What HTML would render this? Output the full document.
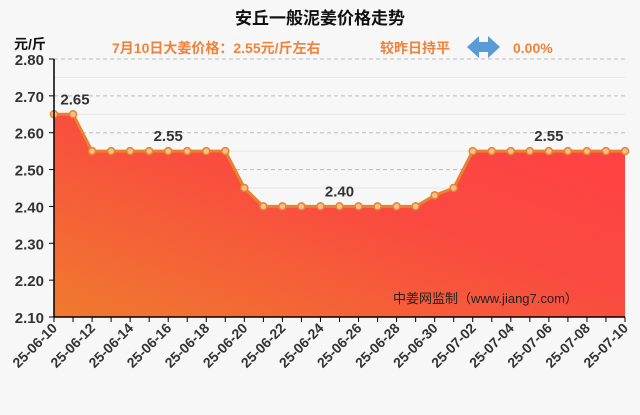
<!DOCTYPE html>
<html><head><meta charset="utf-8"><style>
body{margin:0;background:#f7f7f7;}
svg text{font-family:"Liberation Sans","Noto Sans CJK SC",sans-serif;}
</style></head><body>
<svg width="640" height="410" xmlns="http://www.w3.org/2000/svg">
<defs><linearGradient id="g" x1="0" y1="1" x2="1" y2="0">
<stop offset="0" stop-color="#ef7a2e"/><stop offset="0.55" stop-color="#fa4a40"/><stop offset="1" stop-color="#ff4045"/></linearGradient></defs>
<rect width="640" height="410" fill="#f7f7f7"/>
<text x="320" y="24" text-anchor="middle" font-size="17" font-weight="bold" fill="#111">安丘一般泥姜价格走势</text>
<text x="14" y="49" font-size="14" font-weight="bold" fill="#111">元/斤</text>
<text x="112" y="53" font-size="14" font-weight="bold" fill="#f0823a">7月10日大姜价格：2.55元/斤左右</text>
<text x="380" y="53" font-size="14" font-weight="bold" fill="#f0823a">较昨日持平</text>
<path d="M467,47 L479,36 L479,42 L488,42 L488,36 L500,47 L488,58 L488,52 L479,52 L479,58 Z" fill="#5b9bd5"/>
<text x="513" y="53" font-size="14" font-weight="bold" fill="#f0823a">0.00%</text>
<g id="grid"></g>
<path id="area" fill="url(#g)"/>
<path id="line" fill="none" stroke="#e8822e" stroke-width="3"/>
<g id="pts"></g><g id="lbls"></g><g id="axes"></g>
<text x="393" y="303" font-size="13" fill="#222">中姜网监制（www.jiang7.com）</text>
</svg>
<script>
const dates=["25-06-10","25-06-11","25-06-12","25-06-13","25-06-14","25-06-15","25-06-16","25-06-17","25-06-18","25-06-19","25-06-20","25-06-21","25-06-22","25-06-23","25-06-24","25-06-25","25-06-26","25-06-27","25-06-28","25-06-29","25-06-30","25-07-01","25-07-02","25-07-03","25-07-04","25-07-05","25-07-06","25-07-07","25-07-08","25-07-09","25-07-10"];
const prices=[2.65,2.65,2.55,2.55,2.55,2.55,2.55,2.55,2.55,2.55,2.45,2.40,2.40,2.40,2.40,2.40,2.40,2.40,2.40,2.40,2.43,2.45,2.55,2.55,2.55,2.55,2.55,2.55,2.55,2.55,2.55];
const yTicks=[2.10,2.20,2.30,2.40,2.50,2.60,2.70,2.80];
const annotations=[{i:0,v:"2.65",dx:21},{i:6,v:"2.55",dx:0},{i:15,v:"2.40",dx:0},{i:26,v:"2.55",dx:0}];
const NS="http://www.w3.org/2000/svg";
const X0=54,X1=625,Y0=317,Y1=59,vmin=2.1,vmax=2.8;
const x=i=>X0+(X1-X0)*i/(dates.length-1);
const y=v=>Y0-(v-vmin)/(vmax-vmin)*(Y0-Y1);
function mk(t,a,p){const e=document.createElementNS(NS,t);for(const k in a)e.setAttribute(k,a[k]);p.appendChild(e);return e;}
const grid=document.getElementById('grid'),axes=document.getElementById('axes');
yTicks.forEach((v,k)=>{
 if(k>0){const l=mk('line',{x1:X0,x2:X1,y1:y(v),y2:y(v),stroke:'#bbb','stroke-dasharray':'4,3'},grid);
 
 
 const m=mk('line',{x1:X0,x2:X1,y1:y(v-0.05),y2:y(v-0.05),stroke:'#e6e6e6'},grid);
 
 }
 const t=mk('text',{x:X0-10,y:y(v)+6,'text-anchor':'end','font-size':15,'font-weight':'bold',fill:'#333'},axes);
 t.textContent=v.toFixed(2);
 
 
 mk('line',{x1:X0-5,x2:X0,y1:y(v),y2:y(v),stroke:'#000'},axes);
});
mk('line',{x1:X0,x2:X0,y1:Y1,y2:Y0,stroke:'#000','stroke-width':1.5},axes);
mk('line',{x1:X0,x2:X1,y1:Y0,y2:Y0,stroke:'#000','stroke-width':1.5},axes);
dates.forEach((d,i)=>{
 mk('line',{x1:x(i),x2:x(i),y1:Y0,y2:Y0+5,stroke:'#000'},axes);
 if(i%2==0){const t=mk('text',{x:0,y:0,'text-anchor':'end','font-size':14,'font-weight':'bold',fill:'#333',transform:`translate(${x(i)+4},${Y0+12}) rotate(-45)`},axes);
 t.textContent=d;
 
 }
});
let p=prices.map((v,i)=>(i?'L':'M')+x(i)+','+y(v)).join(' ');
document.getElementById('line').setAttribute('d',p);
document.getElementById('area').setAttribute('d',p+` L${X1},${Y0} L${X0},${Y0} Z`);
const pts=document.getElementById('pts');
prices.forEach((v,i)=>{const c=mk('circle',{cx:x(i),cy:y(v),r:3.5,fill:'#f7c08a',stroke:'#e8822e','stroke-width':1.5},pts);
 
 });
const lb=document.getElementById('lbls');
annotations.forEach(a=>{const t=mk('text',{x:x(a.i)+a.dx,y:y(prices[a.i])-10,'text-anchor':'middle','font-size':15,'font-weight':'bold',fill:'#333'},lb);
 t.textContent=a.v;
 
 });
</script>
</body></html>
